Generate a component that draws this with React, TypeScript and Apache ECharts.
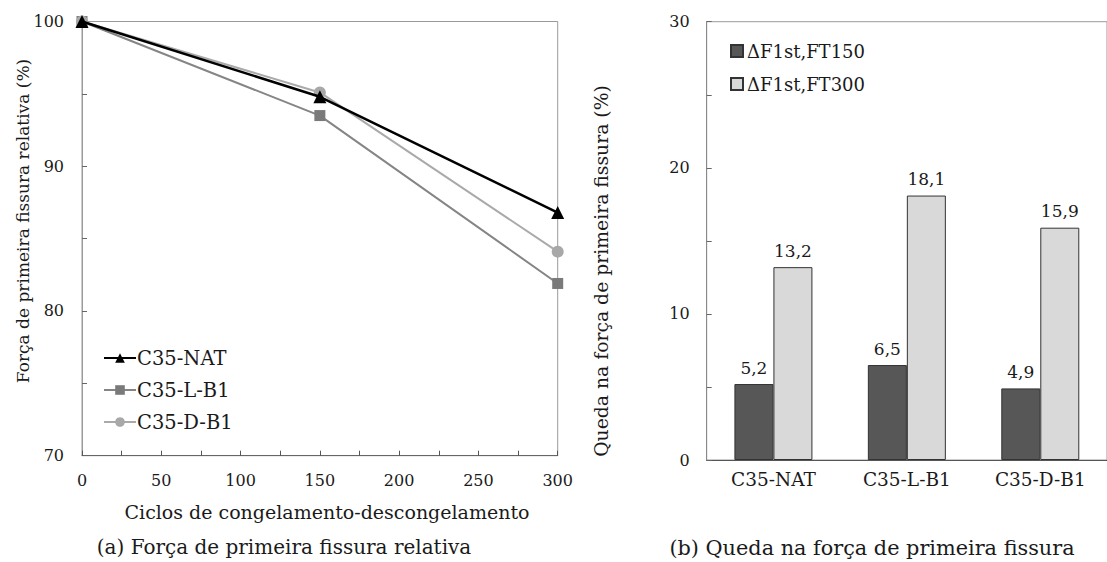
import React, { useEffect, useRef } from "react";
import * as echarts from "echarts";

const cycles = [0, 150, 300];
const natValues = [100, 94.8, 86.8];
const lb1Values = [100, 93.5, 81.9];
const db1Values = [100, 95.1, 84.1];
const lineNames = ["C35-NAT", "C35-L-B1", "C35-D-B1"];

const barCategories = ["C35-NAT", "C35-L-B1", "C35-D-B1"];
const ft150Values = [5.2, 6.5, 4.9];
const ft300Values = [13.2, 18.1, 15.9];
const barNames = ["\u0394F1st,FT150", "\u0394F1st,FT300"];

const FONT = "DejaVu Serif";
const TXT = "#1a1a1a";

export default function App() {
  const ref = useRef<HTMLDivElement>(null);
  useEffect(() => {
    if (!ref.current) return;
    const chart = echarts.init(ref.current, null, { renderer: "svg" });
    const pair = (vals: number[]) => cycles.map((c, i) => [c, vals[i]]);
    const comma = (v: number) => String(v).replace(".", ",");
    chart.setOption({
      animation: false,
      backgroundColor: "#ffffff",
      textStyle: { fontFamily: FONT, color: TXT },
      grid: [
        { left: 82, top: 21.5, width: 475.7, height: 434.2, show: true, borderColor: "#9a9a9a", borderWidth: 1, backgroundColor: "transparent" },
        { left: 706.7, top: 21.7, width: 411, height: 438.3, show: true, borderColor: "#9a9a9a", borderWidth: 1, backgroundColor: "transparent" },
      ],
      xAxis: [
        {
          gridIndex: 0, type: "value", min: 0, max: 300, interval: 25,
          axisLine: { show: true, lineStyle: { color: "#666", width: 1 } },
          axisTick: { show: true, inside: true, length: 5, lineStyle: { color: "#555" } },
          splitLine: { show: false },
          axisLabel: { fontFamily: FONT, fontSize: 16, color: TXT, margin: 17, formatter: (v: number) => (v % 50 === 0 ? String(v) : "") },
        },
        {
          gridIndex: 1, type: "category", data: barCategories,
          axisLine: { show: true, lineStyle: { color: "#555", width: 1 } },
          axisTick: { show: false },
          axisLabel: { fontFamily: FONT, fontSize: 18.5, color: TXT, margin: 10 },
        },
      ],
      yAxis: [
        {
          gridIndex: 0, type: "value", min: 70, max: 100, interval: 5,
          axisLine: { show: true, lineStyle: { color: "#9a9a9a", width: 1 } },
          axisTick: { show: true, inside: true, length: 5, lineStyle: { color: "#666" } },
          splitLine: { show: false },
          axisLabel: { fontFamily: FONT, fontSize: 16, color: TXT, margin: 18, formatter: (v: number) => (v % 10 === 0 ? String(v) : "") },
        },
        {
          gridIndex: 1, type: "value", min: 0, max: 30, interval: 5,
          axisLine: { show: true, lineStyle: { color: "#8a8a8a", width: 1 } },
          axisTick: { show: true, inside: true, length: 5, lineStyle: { color: "#666" } },
          splitLine: { show: false },
          axisLabel: { fontFamily: FONT, fontSize: 16, color: TXT, margin: 17, formatter: (v: number) => (v % 10 === 0 ? String(v) : "") },
        },
      ],
      legend: [
        {
          data: lineNames, orient: "vertical", left: 98, top: 343,
          itemWidth: 32, itemHeight: 12, itemGap: 12,
          textStyle: { fontFamily: FONT, fontSize: 19.5, color: TXT, padding: [0, 0, 0, -4] },
        },
        {
          data: barNames, orient: "vertical", left: 725, top: 37,
          itemWidth: 12, itemHeight: 12, itemGap: 15, icon: "rect",
          textStyle: { fontFamily: FONT, fontSize: 18, color: TXT, padding: [0, 0, 0, -1] },
        },
      ],
      series: [
        {
          name: lineNames[1], type: "line", xAxisIndex: 0, yAxisIndex: 0, data: pair(lb1Values),
          symbol: "rect", symbolSize: 11, clip: false, z: 3,
          lineStyle: { color: "#858585", width: 2 }, itemStyle: { color: "#7a7a7a" },
        },
        {
          name: lineNames[2], type: "line", xAxisIndex: 0, yAxisIndex: 0, data: pair(db1Values),
          symbol: "circle", symbolSize: 12, clip: false, z: 4,
          lineStyle: { color: "#aaaaaa", width: 2 }, itemStyle: { color: "#a8a8a8" },
        },
        {
          name: lineNames[0], type: "line", xAxisIndex: 0, yAxisIndex: 0, data: pair(natValues),
          symbol: "triangle", symbolSize: 13, clip: false, z: 5,
          lineStyle: { color: "#000000", width: 2.5 }, itemStyle: { color: "#000000" },
        },
        {
          name: barNames[0], type: "bar", xAxisIndex: 1, yAxisIndex: 1, data: ft150Values,
          barWidth: 39, barGap: "0%",
          itemStyle: { color: "#575757", borderColor: "#333", borderWidth: 1 },
          label: { show: true, position: "top", distance: 8, fontFamily: FONT, fontSize: 17, color: TXT, formatter: (p: any) => comma(p.value) },
        },
        {
          name: barNames[1], type: "bar", xAxisIndex: 1, yAxisIndex: 1, data: ft300Values,
          barWidth: 39, barGap: "0%",
          itemStyle: { color: "#d9d9d9", borderColor: "#333", borderWidth: 1 },
          label: { show: true, position: "top", distance: 8, fontFamily: FONT, fontSize: 17, color: TXT, formatter: (p: any) => comma(p.value) },
        },
      ],
      graphic: [
        { type: "text", x: 23, y: 221, rotation: Math.PI / 2, style: { text: "Força de primeira fissura relativa (%)", fontFamily: FONT, fontSize: 17, fill: TXT, textAlign: "center", textVerticalAlign: "middle" } },
        { type: "text", x: 327, y: 512, style: { text: "Ciclos de congelamento-descongelamento", fontFamily: FONT, fontSize: 19, fill: TXT, textAlign: "center", textVerticalAlign: "middle" } },
        { type: "text", x: 601, y: 271, rotation: Math.PI / 2, style: { text: "Queda na força de primeira fissura (%)", fontFamily: FONT, fontSize: 18.8, fill: TXT, textAlign: "center", textVerticalAlign: "middle" } },
        { type: "text", x: 284, y: 547, style: { text: "(a) Força de primeira fissura relativa", fontFamily: FONT, fontSize: 20, fill: TXT, textAlign: "center", textVerticalAlign: "middle" } },
        { type: "text", x: 872, y: 548, style: { text: "(b) Queda na força de primeira fissura", fontFamily: FONT, fontSize: 20.8, fill: TXT, textAlign: "center", textVerticalAlign: "middle" } },
      ],
    });
    return () => chart.dispose();
  }, []);
  return (
    <div style={{ position: "fixed", left: 0, top: 0, width: 1107, height: 562, background: "#fff" }}>
      <div ref={ref} style={{ width: 1107, height: 562 }} />
    </div>
  );
}
